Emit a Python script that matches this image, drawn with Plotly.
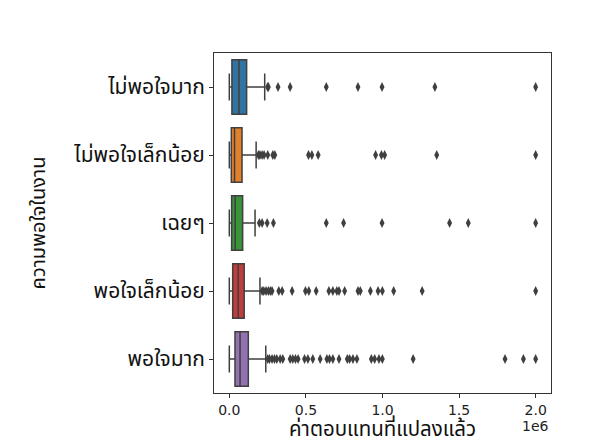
import plotly.graph_objects as go

# satisfaction levels (top to bottom)
levels = ["ไม่พอใจมาก", "ไม่พอใจเล็กน้อย", "เฉยๆ", "พอใจเล็กน้อย", "พอใจมาก"]

# box stats (units of 1e6)
low_fence = [0.0, 0.0, 0.0, 0.0, 0.0]
q1 = [0.017, 0.013, 0.015, 0.022, 0.037]
median = [0.063, 0.034, 0.038, 0.058, 0.070]
q3 = [0.113, 0.083, 0.087, 0.097, 0.124]
up_fence = [0.231, 0.175, 0.168, 0.200, 0.238]

# outliers per level (units of 1e6)
out_1 = [0.250, 0.255, 0.318, 0.397, 0.633, 0.840, 0.997, 1.342, 2.0]
out_2 = [0.190, 0.200, 0.214, 0.227, 0.251, 0.284, 0.297, 0.517, 0.539, 0.580,
         0.955, 0.993, 1.014, 1.354, 2.0]
out_3 = [0.196, 0.214, 0.247, 0.288, 0.633, 0.746, 0.997, 1.438, 1.560, 2.0]
out_4 = [0.214, 0.225, 0.240, 0.255, 0.268, 0.279, 0.323, 0.345, 0.410, 0.497,
         0.519, 0.567, 0.650, 0.676, 0.702, 0.716, 0.753, 0.840, 0.855, 0.921,
         0.971, 0.999, 1.073, 1.259, 2.0]
out_5 = [0.251, 0.262, 0.279, 0.295, 0.310, 0.332, 0.349, 0.397, 0.414, 0.432,
         0.449, 0.491, 0.513, 0.545, 0.593, 0.637, 0.654, 0.676, 0.716, 0.770,
         0.785, 0.807, 0.833, 0.927, 0.949, 0.977, 0.999, 1.200, 1.800, 1.920, 2.0]
outliers = [out_1, out_2, out_3, out_4, out_5]

colors = ["#3274a1", "#e1812c", "#3a923a", "#c03d3e", "#9372b2"]
edge = "#3f3f3f"
scale = 1e6
thai = "Noto Sans Thai, Noto Sans Thai UI, Loma, Garuda, Noto Sans, sans-serif"

fig = go.Figure()

for i, lv in enumerate(levels):
    fig.add_trace(go.Box(
        y=[lv],
        q1=[q1[i] * scale], median=[median[i] * scale], q3=[q3[i] * scale],
        lowerfence=[low_fence[i] * scale], upperfence=[up_fence[i] * scale],
        orientation="h", boxpoints=False, width=0.8, whiskerwidth=0.5,
        fillcolor=colors[i], line=dict(color=edge, width=1.5),
        showlegend=False, hoverinfo="skip",
    ))
    fig.add_trace(go.Scatter(
        x=[v * scale for v in outliers[i]], y=[lv] * len(outliers[i]),
        mode="markers",
        marker=dict(symbol="diamond-tall", size=7, color=edge),
        showlegend=False,
    ))

fig.update_xaxes(
    range=[-0.1e6, 2.1e6], tickvals=[0, 0.5e6, 1e6, 1.5e6, 2e6],
    ticktext=["0.0", "0.5", "1.0", "1.5", "2.0"],
    showline=True, linecolor="#333333", linewidth=1, mirror=True,
    ticks="outside", ticklen=4, tickcolor="#333333", showgrid=False, zeroline=False,
    tickfont=dict(family="DejaVu Sans", size=14, color="#222222"),
    automargin=False,
)
fig.update_yaxes(
    categoryorder="array", categoryarray=levels, range=[4.5, -0.5],
    showline=True, linecolor="#333333", linewidth=1, mirror=True,
    ticks="outside", ticklen=4, tickcolor="#333333", showgrid=False,
    tickfont=dict(size=21, color="#111111"),
    title=dict(text="ความพอใจในงาน", font=dict(size=20, color="#111111"), standoff=22),
    automargin=False,
)

# x-axis title and the offset text, placed below the ticks
fig.add_annotation(text="ค่าตอบแทนที่แปลงแล้ว", xref="paper", yref="paper",
                   x=0.5, y=-0.106, xanchor="center", yanchor="middle", showarrow=False,
                   font=dict(size=20.5, color="#111111"))
fig.add_annotation(text="1e6", xref="paper", yref="paper", x=1.0, y=-0.097,
                   xanchor="right", yanchor="middle", showarrow=False,
                   font=dict(family="DejaVu Sans", size=14, color="#222222"))

fig.update_layout(
    width=612, height=443,
    margin=dict(l=214, r=61, t=53, b=50),
    paper_bgcolor="white", plot_bgcolor="white",
    font=dict(family=thai),
)

# drop the page's default body margin so the figure fills the window
fig.write_html("out.html", config={"displayModeBar": False},
               post_script="document.body.style.margin = '0';")
